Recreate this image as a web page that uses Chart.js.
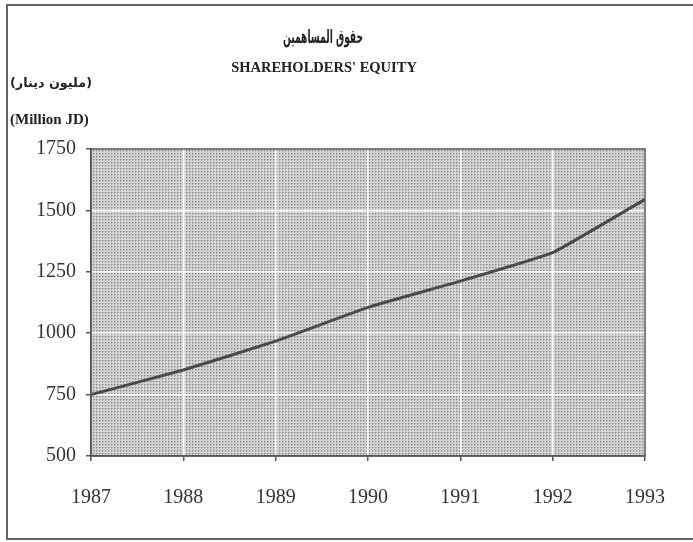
<!DOCTYPE html>
<html>
<head>
<meta charset="utf-8">
<script src="https://cdn.jsdelivr.net/npm/chart.js@4"></script>
<style>
  html, body { margin: 0; padding: 0; background: #fff; }
  #wrap { position: relative; width: 693px; height: 542px; }
</style>
</head>
<body>
<div id="wrap"><canvas id="equityChart" width="693" height="542"></canvas></div>
<script>
// data
const years = ['1987', '1988', '1989', '1990', '1991', '1992', '1993'];
const equity = [750, 850, 968, 1105, 1212, 1328, 1545];
const yTicks = [500, 750, 1000, 1250, 1500, 1750];

const titleAr = 'حقوق المساهمين';
const titleEn = "SHAREHOLDERS' EQUITY";
const unitAr = '(مليون دينار)';
const unitEn = '(Million JD)';

function makeDots() {
  const c = document.createElement('canvas');
  c.width = 3; c.height = 3;
  const g = c.getContext('2d');
  g.fillStyle = '#d4d4d4';
  g.fillRect(0, 0, 3, 3);
  g.fillStyle = '#b0b0b0';
  g.fillRect(1, 0, 1, 1);
  g.fillRect(0, 1, 1, 1);
  g.fillStyle = '#8a8a8a';
  g.fillRect(0, 0, 1, 1);
  return c;
}

// draw text squeezed to a given width
function fitText(ctx, text, cx, cy, width) {
  const w = ctx.measureText(text).width;
  ctx.save();
  ctx.translate(cx, cy);
  ctx.scale(width / w, 1);
  ctx.fillText(text, 0, 0);
  ctx.restore();
}

const decor = {
  id: 'decor',
  beforeDraw(chart) {
    const { ctx, chartArea: a } = chart;
    ctx.save();
    ctx.fillStyle = ctx.createPattern(makeDots(), 'repeat');
    ctx.fillRect(a.left, a.top, a.right - a.left, a.bottom - a.top);
    ctx.restore();
  },
  afterDraw(chart) {
    const { ctx, chartArea: a } = chart;
    ctx.save();
    // outer frame
    ctx.strokeStyle = '#666';
    ctx.lineWidth = 2;
    ctx.strokeRect(7, 5, 700, 534);
    // plot box
    ctx.strokeStyle = '#555';
    ctx.lineWidth = 1.5;
    ctx.strokeRect(a.left, a.top, a.right - a.left, a.bottom - a.top);
    // texts
    ctx.fillStyle = '#222';
    ctx.textAlign = 'center';
    ctx.textBaseline = 'middle';
    ctx.font = 'bold 19px "DejaVu Sans", sans-serif';
    fitText(ctx, titleAr, 323, 38, 80);
    ctx.font = 'bold 14.5px "Liberation Serif", serif';
    ctx.fillText(titleEn, 324, 68);
    ctx.font = 'bold 13px "DejaVu Sans", sans-serif';
    fitText(ctx, unitAr, 51, 84, 82);
    ctx.textAlign = 'left';
    ctx.font = 'bold 15px "Liberation Serif", serif';
    ctx.fillText(unitEn, 10, 120);
    ctx.restore();
  }
};

new Chart(document.getElementById('equityChart'), {
  type: 'line',
  data: {
    labels: years,
    datasets: [{
      data: equity,
      borderColor: '#4a4a4a',
      borderWidth: 3,
      pointRadius: 0,
      tension: 0.1,
      fill: false
    }]
  },
  options: {
    responsive: false,
    animation: false,
    layout: { padding: { left: 0, right: 48, top: 149, bottom: 0 } },
    plugins: { legend: { display: false }, title: { display: false }, tooltip: { enabled: false } },
    scales: {
      x: {
        offset: false,
        afterFit(scale) { scale.height = 86; },
        grid: { color: '#ffffff', lineWidth: 1.5, tickColor: '#555', tickLength: 5 },
        border: { color: '#555', width: 1.5 },
        ticks: { color: '#333', padding: 25, font: { family: '"Liberation Serif", serif', size: 20 } }
      },
      y: {
        min: 500,
        max: 1750,
        afterFit(scale) { scale.width = 91; },
        afterBuildTicks(scale) { scale.ticks = yTicks.map(v => ({ value: v })); },
        grid: { color: '#ffffff', lineWidth: 1.5, tickColor: '#555', tickLength: 5 },
        border: { color: '#555', width: 1.5 },
        ticks: {
          color: '#333',
          padding: 10,
          font: { family: '"Liberation Serif", serif', size: 20 },
          callback: v => String(v)
        }
      }
    }
  },
  plugins: [decor]
});
</script>
</body>
</html>
